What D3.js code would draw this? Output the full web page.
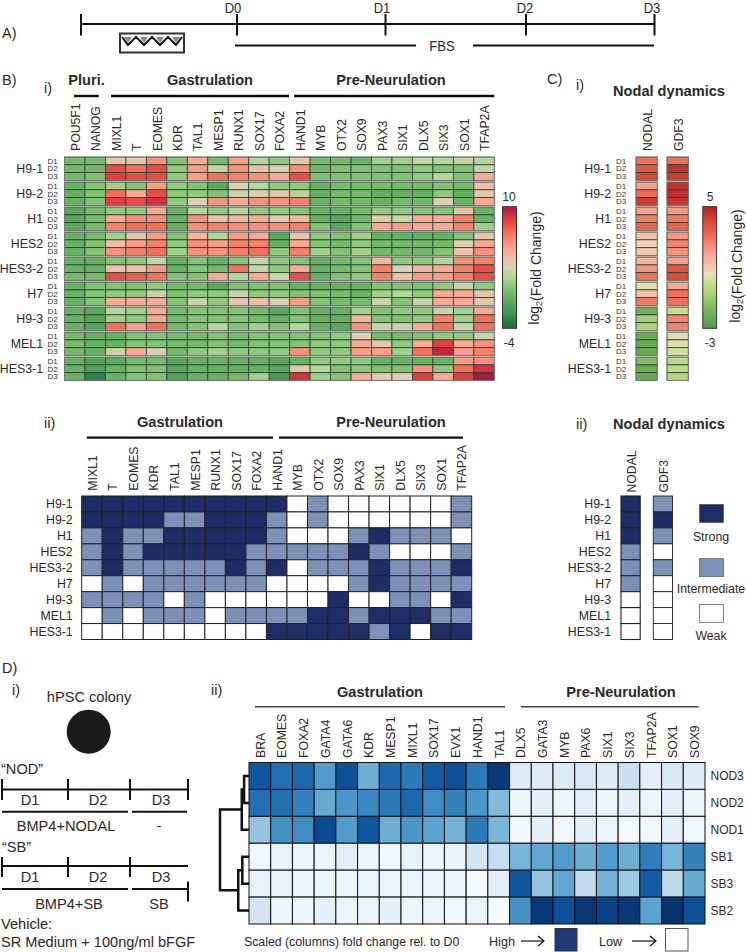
<!DOCTYPE html>
<html><head><meta charset="utf-8">
<script src="https://cdn.jsdelivr.net/npm/d3@7/dist/d3.min.js"></script>
<style>html,body{margin:0;padding:0;background:#fff}svg{display:block}text{font-family:"Liberation Sans",Arial,sans-serif}</style>
</head><body><svg id="c" width="746" height="952"></svg>
<script>
// ---------- data ----------
const lines = ["H9-1","H9-2","H1","HES2","HES3-2","H7","H9-3","MEL1","HES3-1"];
const days = ["D1","D2","D3"];
const genesBi = ["POU5F1","NANOG","MIXL1","T","EOMES","KDR","TAL1","MESP1","RUNX1","SOX17","FOXA2","HAND1","MYB","OTX2","SOX9","PAX3","SIX1","DLX5","SIX3","SOX1","TFAP2A"];
const genesBii = genesBi.slice(2);
const genesC = ["NODAL","GDF3"];
const tlDays = ["D0","D1","D2","D3"];
// log2 fold change scores per line, per day
const bH91 = [[0,0,3.5,3.5,6,.5,5,0,5.5,2,1,3.5,0,0,-.5,1.5,1.5,2.5,2,2.5,2],
 [0,0,8,7,8,1,5.5,2.5,6,4,3,6,0,.5,.5,.5,.5,1,.5,.5,2.5],
 [0,.5,8.5,8,8,1,5.5,7,6.5,6,5,8,.5,.5,.5,.5,.5,1,2,.5,5]];
const bH92 = [[-.5,.5,1.5,.5,5.5,1,.5,-1,3,2,1,1,-.5,0,0,0,0,0,.5,0,4],
 [-.5,.5,7,5,8,1,1,.5,2.5,3,3.5,2,-.5,0,0,-.5,-.5,-.5,1,-.5,3.5],
 [-.5,.5,8.5,8,9,1,3,6,5,6,6,6.5,-.5,0,0,-.5,0,0,3,-.5,5]];
const bH1 = [[-1,0,1,1,5,-.5,2,1,2,1,1,.5,-.5,-.5,0,1,1,.5,.5,4,-.5],
 [-1,0,5,6,6,-.5,6,4,4.5,5,3.5,4.5,-.5,-1,0,3.5,2.5,5,5,6.5,-.5],
 [-1,0,6.5,7,7,-.5,6,6.5,6,6,6,6.5,.5,-1,.5,5,5.5,5,5,6.5,1.5]];
const bHES2 = [[-.5,0,1.5,3.5,5.5,.5,4.5,2,5.5,5,-1,3.5,1,.5,1.5,-.5,-.5,-.5,-.5,.5,3.5],
 [-.5,.5,4,5.5,6.5,1,6,5.5,6.5,6.5,-.5,5,.5,0,1,0,0,0,0,3,5],
 [-.5,.5,6,6.5,7,1.5,6,6,6.5,7,1,6.5,1.5,.5,1.5,0,0,0,.5,4,6]];
const bHES32 = [[-.5,-.5,.5,1,2.5,-.5,.5,-.5,.5,2.5,1,.5,-.5,0,.5,4.5,1,1,2,6,6.5],
 [-.5,-.5,4,4,5.5,-.5,.5,0,7,2.5,1,5,-.5,0,.5,6.5,3,4.5,5,6.5,8],
 [0,0,8,7.5,7,.5,.5,5,2,5,2.5,8,-.5,.5,1,6.5,4,5.5,5.5,6.5,8]];
const bH7 = [[-.5,.5,.5,.5,1,0,0,-1,.5,.5,.5,-.5,-.5,-.5,-.5,.5,.5,.5,1,2.5,1],
 [-.5,.5,1,1,2.5,.5,1,1,2.5,1,1,.5,.5,0,-.5,1.5,2,1,5,5,3.5],
 [-.5,.5,5,5,5,.5,2.5,1,3.5,4,3,5.5,.5,0,0,2.5,.5,2.5,5,5,3.5]];
const bH93 = [[-.5,-1,2,1.5,5,0,.5,.5,.5,0,-1,.5,-.5,-.5,1.5,.5,1,1,2.5,1.5,5],
 [-.5,-1,1.5,1,5,0,.5,.5,.5,0,-.5,.5,-.5,-.5,4.5,.5,.5,1,6.5,1.5,7],
 [-.5,-1,7,5.5,7,0,.5,2,.5,1.5,.5,2,-.5,-1,6,2.5,2.5,5,7,2.5,7]];
const bMEL1 = [[0,-.5,-.5,.5,.5,0,0,.5,0,.5,.5,.5,.5,1,3,0,0,.5,1,1,2.5],
 [0,-.5,-.5,.5,.5,0,0,.5,0,.5,.5,.5,1,1,5,3.5,1,5,8.5,5,6],
 [0,-.5,2.5,5,3,0,1,1.5,1,1,1,6,1,1,5.5,5.5,1.5,7,9.5,5.5,6.5]];
const bHES31 = [[-.5,-1.5,-1,0,0,-1,-.5,-.5,-.5,-.5,-1,-.5,1,1,1,-.5,-.5,-.5,-.5,5.5,6],
 [-.5,-1.5,-.5,.5,.5,-1,-.5,-.5,-.5,-.5,-1,3.5,2,.5,1,.5,.5,6,1,7,9],
 [-.5,-3,-.5,.5,.5,-1.5,-.5,-.5,0,1.5,-2,9,1.5,.5,5,3.5,3,8.5,5,8.5,10]];
const biRows = [bH91,bH92,bH1,bHES2,bHES32,bH7,bH93,bMEL1,bHES31];
const cNodal = [[3,3.6,4.1],[2,3.1,4.4],[2,2.7,3.3],[1.2,.8,1],[1.5,2.3,3],[.4,1.2,2.8],[-2,-.8,-.6],[-2.2,-2.3,-2.3],[-1.6,-2.2,-2.4]];
const cGdf3 = [[3,4.6,4.4],[4.6,4.7,4.5],[2.2,2.8,3.4],[2.2,2.6,2.3],[2,3.7,4],[1.8,3,3],[0,2.6,2.6],[.4,.4,.2],[-.3,-.2,-.5]];
// 2 strong, 1 intermediate, 0 weak
const biiRows = [[2,2,2,2,2,2,2,2,2,2,0,1,0,0,0,0,0,0,1],[2,2,2,2,1,1,2,2,2,1,0,1,0,0,0,0,0,0,1],
 [1,2,1,1,2,2,2,2,2,1,0,0,0,1,2,1,1,1,0],[1,2,1,2,2,2,2,2,1,1,1,1,1,2,1,0,0,0,1],
 [1,2,1,1,1,1,1,2,1,2,0,1,1,1,2,1,1,1,2],[0,1,0,1,1,1,1,1,1,0,0,0,0,1,2,1,1,1,1],
 [1,1,1,1,0,1,0,0,0,0,0,0,2,0,0,1,1,0,2],[0,1,0,1,1,1,0,1,1,1,1,2,2,1,2,2,2,1,1],
 [0,0,0,0,0,0,0,0,0,2,2,2,2,2,1,2,0,2,2]];
const ciiNodal = [2,2,2,1,1,1,0,0,0];
const ciiGdf3 = [1,2,1,0,1,0,0,0,0];
const levelNames = ["Strong","Intermediate","Weak"];
const genesD = ["BRA","EOMES","FOXA2","GATA4","GATA6","KDR","MESP1","MIXL1","SOX17","EVX1","HAND1","TAL1","DLX5","GATA3","MYB","PAX6","SIX1","SIX3","TFAP2A","SOX1","SOX9"];
const condD = ["NOD3","NOD2","NOD1","SB1","SB3","SB2"];
const dNOD3 = [.85,.75,.78,.58,.87,.5,.78,.72,.83,.88,.72,.97,.13,.12,.13,.16,.12,.22,.1,.15,.13];
const dNOD2 = [.75,.75,.68,.52,.6,.66,.72,.78,.65,.68,.6,.45,.05,.1,.05,.1,.06,.1,.05,.1,.05];
const dNOD1 = [.4,.62,.65,.9,.58,.85,.5,.6,.55,.48,.72,.47,.03,.1,.03,.1,.06,.02,.03,.1,.03];
const dSB1 = [.03,.07,.06,.06,.1,.06,.03,.07,.05,.07,.18,.24,.47,.53,.58,.5,.58,.5,.7,.47,.68];
const dSB3 = [.07,.07,.06,.06,.06,.06,.05,.06,.05,.06,.01,.1,.85,.4,.53,.25,.48,.37,.83,.27,.52];
const dSB2 = [.17,.05,.05,.09,.06,.06,.08,.05,.05,.04,.06,.01,.62,.97,.88,.98,.93,.97,.55,.99,.88];
const dRows = [dNOD3,dNOD2,dNOD1,dSB1,dSB3,dSB2];
const dendroTree = {h:1,c:[{h:.25,c:[{h:.17,c:[{l:"NOD3"},{l:"NOD2"}]},{l:"NOD1"}]},{h:.37,c:[{h:.23,c:[{l:"SB1"},{l:"SB3"}]},{l:"SB2"}]}]};

// ---------- helpers ----------
const svg = d3.select("#c");
const squeeze = (sel,r) => { const n=sel.node(); sel.attr("textLength",n.getComputedTextLength()*r).attr("lengthAdjust","spacingAndGlyphs"); return sel; };
const txt = (x,y,s,o={}) => { const t=svg.append("text").attr("x",x).attr("y",y).attr("font-size",o.size||12)
  .attr("font-weight",o.bold?"bold":null).attr("text-anchor",o.anchor||"start").attr("fill",o.fill||"#2a2a2a").text(s);
  if(o.r) squeeze(t,o.r); return t; };
const ln = (x1,y1,x2,y2,w=2,c="#111") => svg.append("line").attr("x1",x1).attr("y1",y1).attr("x2",x2).attr("y2",y2).attr("stroke",c).attr("stroke-width",w);
const vert = (x,y,s,size=13.6,r=.9) => squeeze(svg.append("text").attr("transform",`translate(${x},${y}) rotate(-90)`).attr("font-size",size).attr("dy","0.36em").attr("fill","#2a2a2a").text(s),r);
function logLabel(x,y,size){ const t=svg.append("text").attr("transform",`translate(${x},${y}) rotate(-90)`).attr("font-size",size).attr("text-anchor","middle").attr("dy","0.36em").attr("fill","#2a2a2a");
  t.append("tspan").text("log"); t.append("tspan").attr("font-size",size*.65).attr("dy","0.35em").text("2"); t.append("tspan").attr("dy","-0.1em").text("(Fold Change)"); }
function colorbar(id,scale,x0,x1,y0,y1){
  const g=svg.append("defs").append("linearGradient").attr("id",id).attr("x1",0).attr("x2",0).attr("y1",1).attr("y2",0);
  const [a,b]=[scale.domain()[0],scale.domain().at(-1)];
  scale.domain().forEach(d=>g.append("stop").attr("offset",(d-a)/(b-a)).attr("stop-color",scale(d)));
  svg.append("rect").attr("x",x0).attr("y",y0).attr("width",x1-x0).attr("height",y1-y0).attr("fill",`url(#${id})`).attr("stroke","#333").attr("stroke-width",1);
}
const LBL={size:13.4,r:.92};

// ---------- panel A ----------
txt(2,38,"A)",{size:14.5});
const tlPos = d3.scaleOrdinal().domain(["s",...tlDays]).range([81,237,385.5,526,654.5]);
ln(81,24,654.5,24,2);
tlPos.domain().forEach(d=>ln(tlPos(d),14,tlPos(d),35.5,2));
const tlTxt = d3.scaleOrdinal().domain(tlDays).range([233,382,525,652]);
tlDays.forEach(d=>txt(tlTxt(d),12.5,d,{size:14,r:.93,anchor:"middle"}));
ln(235,45.5,416,45.5,2); ln(473,45.5,654,45.5,2);
txt(442,51,"FBS",{size:14.5,r:.9,anchor:"middle"});
svg.append("rect").attr("x",120).attr("y",33.5).attr("width",64).attr("height",19).attr("fill","#fff").attr("stroke","#333").attr("stroke-width",2);
svg.append("path").attr("d","M122,37 L128,45 L136,37 L144,45 L152,37 L160,45 L168,37 L176,45 L182,37").attr("fill","none").attr("stroke","#111").attr("stroke-width",2);
[128,144,160,176].forEach(x=>svg.append("path").attr("d",`M${x-4},37 L${x+4},37 L${x},43 Z`).attr("fill","#888"));

// ---------- panel B i ----------
txt(2,85,"B)",{size:14.5}); txt(44,93,"i)",{size:14.5});
txt(86.5,85,"Pluri.",{size:14.6,bold:true,anchor:"middle"});
txt(210,85,"Gastrulation",{size:14.6,bold:true,anchor:"middle"});
txt(391,85,"Pre-Neurulation",{size:14.6,bold:true,anchor:"middle"});
ln(74,96,98.7,96,2.4); ln(111,96,289,96,2.4); ln(294,96,494.3,96,2.4);

const bColor = d3.scaleLinear().domain([-4,-3,-2,-1,0,1,2,3,4,5,6,7,8,9,10])
  .range(["#1f7040","#2f8048","#4a9a55","#5aa85c","#75b96b","#90c87d","#b3d69b","#d8cfb5","#ecbfa8","#f8a896","#f88f7a","#f4705a","#ea4c48","#d83040","#a81a3c"]);
const cColor = d3.scaleLinear().domain([-3,-2,-1,0,.6,1,2,3,4,5])
  .range(["#4f9c4a","#6fb057","#a0cc70","#c8dc90","#ecdfc0","#f2c8b0","#f8a090","#f0705a","#dd4a38","#b5202c"]);

const groupY = d3.scaleBand().domain(lines).range([157,380.5]).paddingInner(.065).paddingOuter(0);
const dayY = d3.scaleBand().domain(days).range([0,groupY.bandwidth()]);

function heat3(xScale,rowsOf,genes,color){
  lines.forEach((ln_,i)=>{
    const g=svg.append("g").attr("transform",`translate(0,${groupY(ln_)})`);
    days.forEach((d,di)=>{
      g.selectAll(null).data(genes).join("rect")
       .attr("x",k=>xScale(k)).attr("y",dayY(d)).attr("width",xScale.bandwidth()).attr("height",dayY.bandwidth())
       .attr("fill",(k,ki)=>color(rowsOf(i,di,ki))).attr("stroke","#27402c").attr("stroke-width",.8);
    });
    const x0=xScale(genes[0]), x1=xScale(genes.at(-1))+xScale.bandwidth();
    const frame=(a,w)=>g.append("rect").attr("x",a).attr("y",0).attr("width",w).attr("height",groupY.bandwidth()).attr("fill","none").attr("stroke","#8a8a8a").attr("stroke-width",.7);
    if(genes.length>2) frame(x0,x1-x0); else genes.forEach(k=>frame(xScale(k),xScale.bandwidth()));
  });
}
function rowLabels(xEnd,dx0){
  lines.forEach(l=>{
    txt(xEnd,groupY(l)+groupY.bandwidth()/2+4.5,l,{...LBL,anchor:"end"});
    days.forEach(d=>txt(dx0,groupY(l)+dayY(d)+dayY.bandwidth()/2+2.8,d,{size:8,fill:"#333"}));
  });
}
const xBi = d3.scaleBand().domain(genesBi).range([64.5,494.3]);
heat3(xBi,(i,d,k)=>biRows[i][d][k],genesBi,bColor);
genesBi.forEach(g=>vert(xBi(g)+xBi.bandwidth()/2,151,g));
rowLabels(43,47.5);
colorbar("cb1",bColor,502.5,516.5,206.7,328.3);
txt(509,201,"10",{size:12,anchor:"middle"}); txt(509,347,"-4",{size:12,anchor:"middle"});
logLabel(534,268,14);

// ---------- panel C i ----------
txt(547,84,"C)",{size:14.5}); txt(576,90,"i)",{size:14.5});
txt(669,96,"Nodal dynamics",{size:14.6,bold:true,anchor:"middle"});
const xC = d3.scaleOrdinal().domain(genesC).range([636,667]);
xC.bandwidth=()=>21.3;
heat3(xC,(i,d,k)=>(k===0?cNodal:cGdf3)[i][d],genesC,cColor);
genesC.forEach(g=>vert(xC(g)+xC.bandwidth()/2,151,g));
rowLabels(611,616);
colorbar("cb2",cColor,702.8,716.6,206.7,328.3);
txt(710,201,"5",{size:12,anchor:"middle"}); txt(710,347,"-3",{size:12,anchor:"middle"});
logLabel(735,266,14);

// ---------- panel B ii ----------
txt(44,428,"ii)",{size:14.5});
txt(180,427,"Gastrulation",{size:14.6,bold:true,anchor:"middle"});
txt(391,427,"Pre-Neurulation",{size:14.6,bold:true,anchor:"middle"});
ln(86.7,437.7,273,437.7,2.2); ln(279,437.7,463,437.7,2.2);
const level = d3.scaleOrdinal().domain([0,1,2]).range(["#ffffff","#7d90b8","#1e2d66"]);
const yBii = d3.scaleBand().domain(lines).range([496,639.5]);
const xBii = d3.scaleBand().domain(genesBii).range([81.7,471.7]);
lines.forEach((l,i)=>{
  svg.selectAll(null).data(biiRows[i]).join("rect").attr("x",(v,k)=>xBii(genesBii[k])).attr("y",yBii(l))
   .attr("width",xBii.bandwidth()).attr("height",yBii.bandwidth()).attr("fill",v=>level(v)).attr("stroke","#222").attr("stroke-width",1);
  txt(72.7,yBii(l)+yBii.bandwidth()/2+4.3,l,{...LBL,anchor:"end"});
});
genesBii.forEach(g=>vert(xBii(g)+xBii.bandwidth()/2,490.7,g));

// ---------- panel C ii ----------
txt(576,429,"ii)",{size:14.5});
txt(669,429,"Nodal dynamics",{size:14.6,bold:true,anchor:"middle"});
const xCii = d3.scaleOrdinal().domain(genesC).range([621,653.3]);
lines.forEach((l,i)=>{
  [ciiNodal,ciiGdf3].forEach((arr,k)=>{
    svg.append("rect").attr("x",xCii(genesC[k])).attr("y",yBii(l)).attr("width",19.2).attr("height",yBii.bandwidth())
     .attr("fill",level(arr[i])).attr("stroke","#222").attr("stroke-width",k===0?1.1:.9);
  });
  txt(611,yBii(l)+yBii.bandwidth()/2+4.3,l,{...LBL,anchor:"end"});
});
genesC.forEach(g=>vert(xCii(g)+9.6,492.5,g));
const legY = d3.scaleOrdinal().domain(levelNames).range([504.5,558.7,604.5]);
const legV = d3.scaleOrdinal().domain(levelNames).range([2,1,0]);
const legT = d3.scaleOrdinal().domain(levelNames).range([541,593,640]);
levelNames.forEach(n=>{
  svg.append("rect").attr("x",699.5).attr("y",legY(n)).attr("width",24).attr("height",18).attr("fill",level(legV(n))).attr("stroke","#555").attr("stroke-width",.7);
  txt(711,legT(n),n,{size:12.3,anchor:"middle"});
});

// ---------- panel D i ----------
txt(2,673,"D)",{size:14.5}); txt(12,695,"i)",{size:14.5});
txt(89,702,"hPSC colony",{size:14.6,anchor:"middle"});
svg.append("circle").attr("cx",88.7).attr("cy",731.7).attr("r",22).attr("fill","#1a1a1a");
txt(1,774,"\u201CNOD\u201D",{size:14.6});
ln(2,789.5,188,789.5,2);
[2,68,130,188].forEach(x=>ln(x,779,x,800,2));
const dTxt = d3.scaleOrdinal().domain(days).range([30,98,161]);
days.forEach(d=>txt(dTxt(d),805,d,{size:14.6,anchor:"middle"}));
ln(2,811.7,128,811.7,2); ln(132,811.7,187,811.7,2);
txt(66,831,"BMP4+NODAL",{size:14.6,anchor:"middle"}); txt(159,831,"-",{size:14.6,anchor:"middle"});
txt(2,851.5,"\u201CSB\u201D",{size:14.6});
ln(1,866,188,866,2);
[2,68,130].forEach(x=>ln(x,857,x,877,2));
days.forEach(d=>txt(dTxt(d),881.5,d,{size:14.6,anchor:"middle"}));
ln(2,889,128,889,2); ln(132,889,188,889,2); ln(188,881.5,188,901.5,2);
txt(69,909,"BMP4+SB",{size:14.6,anchor:"middle"}); txt(159,909,"SB",{size:14.6,anchor:"middle"});
txt(1,929,"Vehicle:",{size:14.6}); txt(1,946.5,"SR Medium + 100ng/ml bFGF",{size:14.6});

// ---------- panel D ii ----------
txt(211,695,"ii)",{size:14.5});
txt(380,697,"Gastrulation",{size:14.6,bold:true,anchor:"middle"});
txt(621,697,"Pre-Neurulation",{size:14.6,bold:true,anchor:"middle"});
ln(255,706.7,505,706.7,1.5,"#444"); ln(521,706.7,698.7,706.7,1.5,"#444");
const xD = d3.scaleBand().domain(genesD).range([249,705]);
const yD = d3.scaleBand().domain(condD).range([762.5,924]);
const dColor = v => d3.interpolateBlues(v);
condD.forEach((c,i)=>{
  svg.selectAll(null).data(dRows[i]).join("rect").attr("x",(v,k)=>xD(genesD[k])).attr("y",yD(c))
   .attr("width",xD.bandwidth()).attr("height",yD.bandwidth()).attr("fill",v=>dColor(v)).attr("stroke","#111").attr("stroke-width",1);
  txt(710.5,yD(c)+yD.bandwidth()/2+4.5,c,{size:13,r:.92});
});
genesD.forEach(g=>vert(xD(g)+xD.bandwidth()/2,758,g));
const hX = d3.scaleLinear().domain([0,1]).range([249,220]);
function drawTree(n){
  if(n.l) return {x:hX(0),y:yD(n.l)+yD.bandwidth()/2};
  const [a,b]=n.c.map(drawTree); const x=hX(n.h);
  svg.append("path").attr("d",d3.line()([[a.x,a.y],[x,a.y],[x,b.y],[b.x,b.y]])).attr("fill","none").attr("stroke","#111").attr("stroke-width",2.5);
  return {x,y:(a.y+b.y)/2};
}
drawTree(dendroTree);
txt(244,946,"Scaled (columns) fold change rel. to D0",{size:12.3});
txt(489,946,"High",{size:12.6}); txt(599,946,"Low",{size:12.6});
const arrow=(x0,x1,y)=>{ln(x0,y,x1,y,1.2);svg.append("path").attr("d",`M${x1-6},${y-5} L${x1},${y} L${x1-6},${y+5}`).attr("fill","none").attr("stroke","#111").attr("stroke-width",1.2);};
arrow(521,544,941); arrow(632,656,941);
svg.append("rect").attr("x",555).attr("y",928.5).attr("width",22).attr("height",22.5).attr("fill","#1f3a7a").attr("stroke","#333");
svg.append("rect").attr("x",665.5).attr("y",928.5).attr("width",22.5).attr("height",22.5).attr("fill","#fff").attr("stroke","#555");
</script></body></html>
